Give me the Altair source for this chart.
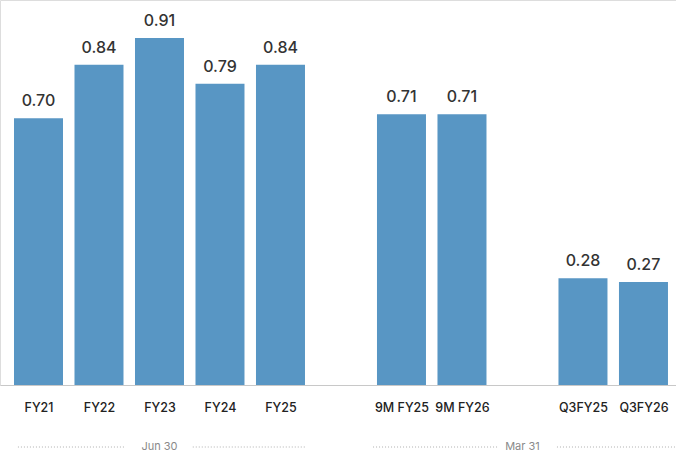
import altair as alt
import pandas as pd

# Data
categories = ["FY21", "FY22", "FY23", "FY24", "FY25", "9M FY25", "9M FY26", "Q3FY25", "Q3FY26"]
positions = [0, 1, 2, 3, 4, 6, 7, 9, 10]
values = [0.70, 0.84, 0.91, 0.79, 0.84, 0.71, 0.71, 0.28, 0.27]

group_labels = ["Jun 30", "Mar 31"]
group_centers = [2, 8]
seg_start = [-0.34, 2.55, 5.53, 8.57]
seg_end = [1.43, 4.41, 7.58, 10.52]

df = pd.DataFrame({"cat": categories, "pos": positions, "value": values,
                   "label": [f"{v:.2f}" for v in values]})
grp = pd.DataFrame({"label": group_labels, "pos": group_centers})
seg = pd.DataFrame({"s": seg_start, "e": seg_end})

label_expr = " : ".join(
    [f"datum.value == {p} ? '{c}'" for p, c in zip(positions, categories)]
) + " : ''"

xscale = alt.Scale(domain=[-0.5537, 10.455], nice=False, zero=False)
yscale = alt.Scale(domain=[0, 1.01], nice=False)

bars = alt.Chart(df).mark_bar(size=49, color="#5896c4").encode(
    x=alt.X("pos:Q", scale=xscale,
            axis=alt.Axis(values=positions, labelExpr=label_expr, title=None,
                          ticks=False, grid=False, domainColor="#c8c8c8",
                          domainWidth=1.2, labelPadding=16, labelFontSize=12.5,
                          labelColor="#222222", labelFont="Inter",
                          labelFontWeight=500)),
    y=alt.Y("value:Q", scale=yscale, axis=None),
)

text = alt.Chart(df).mark_text(baseline="bottom", dy=-9, fontSize=16,
                               font="Inter", fontWeight=500, color="#333333").encode(
    x=alt.X("pos:Q", scale=xscale),
    y=alt.Y("value:Q", scale=yscale),
    text="label:N",
)

glabels = alt.Chart(grp).mark_text(fontSize=11, font="Inter", color="#8a8a8a",
                                   baseline="middle").encode(
    x=alt.X("pos:Q", scale=xscale),
    y=alt.value(447),
    text="label:N",
)

segs = alt.Chart(seg).mark_rule(color="#b0b0b0", strokeDash=[1, 2], strokeWidth=1).encode(
    x=alt.X("s:Q", scale=xscale),
    x2="e:Q",
    y=alt.value(447),
)

chart = alt.layer(bars, text, segs, glabels).properties(
    width=676, height=385,
    autosize=alt.AutoSizeParams(type="none"),
    padding={"left": 0, "top": 0, "right": 0, "bottom": 72},
).configure_view(stroke=None).configure(background="white")

chart.save("out.html", embed_options={"renderer": "svg", "actions": False})
